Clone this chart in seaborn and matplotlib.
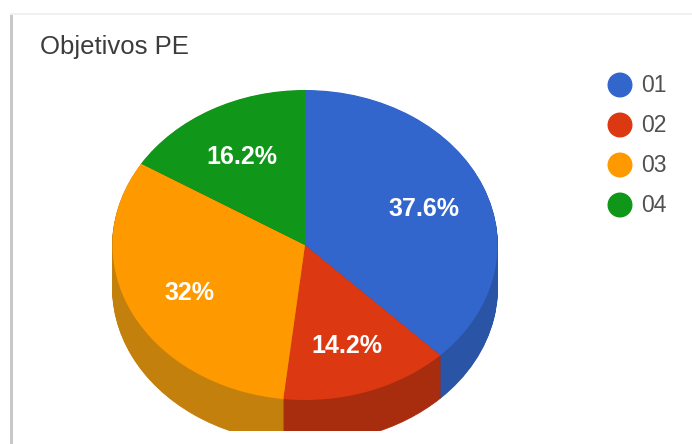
import matplotlib
matplotlib.use("Agg")
import matplotlib.pyplot as plt
from matplotlib.patches import Rectangle
import numpy as np
import pandas as pd
import seaborn as sns

categories = ["01", "02", "03", "04"]
values = [37.6, 14.2, 32, 16.2]
colors = ["#3366CC", "#DC3912", "#FF9900", "#109618"]
side_colors = ["#2A54A6", "#A82C0E", "#C4800C", "#0C7012"]
title = "Objetivos PE"

sns.set_theme(style="white")
plt.rcParams["font.family"] = ["Liberation Sans", "DejaVu Sans"]

W, H = 692, 444
fig = plt.figure(figsize=(W / 100, H / 100), dpi=100, facecolor="white")


def box(x0, y0, x1, y1):
    return [x0 / W, 1 - y1 / H, (x1 - x0) / W, (y1 - y0) / H]


# card behind the chart
bg = fig.add_axes([0, 0, 1, 1], zorder=0)
bg.set_xlim(0, W)
bg.set_ylim(H, 0)
bg.axis("off")
bg.add_patch(Rectangle((10, 13), W, H, fc="#F0F0F0", ec="none"))
bg.add_patch(Rectangle((10, 15), 3, H, fc="#C8C8C8", ec="none"))
bg.add_patch(Rectangle((13, 15), W, H, fc="white", ec="none"))

# pie: centre (305, 245), radii 192.5 x 155 px, clipped at y = 431
cx, cy, rx, ry, depth = 305, 245, 192.5, 155, 43
x0, x1 = 0, W
y0, y1 = 0, 431
ax = fig.add_axes(box(x0, y0, x1, y1), zorder=1)
for d in range(depth, 0, -1):
    ax.pie(values, colors=side_colors, startangle=90, counterclock=False,
           center=(0, -d / ry), radius=1, frame=False,
           wedgeprops={"linewidth": 0.6, "clip_on": True})
    for w in ax.patches[-len(values):]:
        w.set_edgecolor(w.get_facecolor())
wedges, texts, autotexts = ax.pie(
    values, colors=colors, startangle=90, counterclock=False, center=(0, 0), radius=1,
    autopct=lambda p: f"{p:.1f}".rstrip("0").rstrip(".") + "%", pctdistance=0.67,
    wedgeprops={"linewidth": 0, "clip_on": True},
    textprops={"color": "white", "fontsize": 18, "fontweight": "bold"},
)
for t in autotexts:
    t.set_va("top")
    t.set_position((t.get_position()[0], t.get_position()[1] + 9 / ry))
ax.set_aspect("auto")
ax.set_xlim((x0 - cx) / rx, (x1 - cx) / rx)
ax.set_ylim((cy - y1) / ry, (cy - y0) / ry)
ax.axis("off")

# title
fig.text(40 / W, 1 - 47 / H, title, fontsize=18.5, color="#3C3C3C", va="center", ha="left")

# legend
legend_df = pd.DataFrame({"cat": categories, "x": [0] * len(categories),
                          "y": np.arange(len(categories))})
ax_leg = fig.add_axes(box(600, 65, 680, 225), zorder=3)
ax_leg.patch.set_alpha(0)
sns.scatterplot(data=legend_df, x="x", y="y", hue="cat", palette=colors, marker="o",
                s=324, linewidth=0, legend=False, ax=ax_leg)
ax_leg.set_xlim(-0.25, 0.75)
ax_leg.set_ylim(3.5, -0.5)
ax_leg.axis("off")
for i, c in enumerate(categories):
    ax_leg.annotate(c, (0, i), xytext=(21, 0), textcoords="offset pixels", va="center", ha="left",
                    fontsize=16.5, color="#505050")

fig.savefig("out.png", dpi=100)
